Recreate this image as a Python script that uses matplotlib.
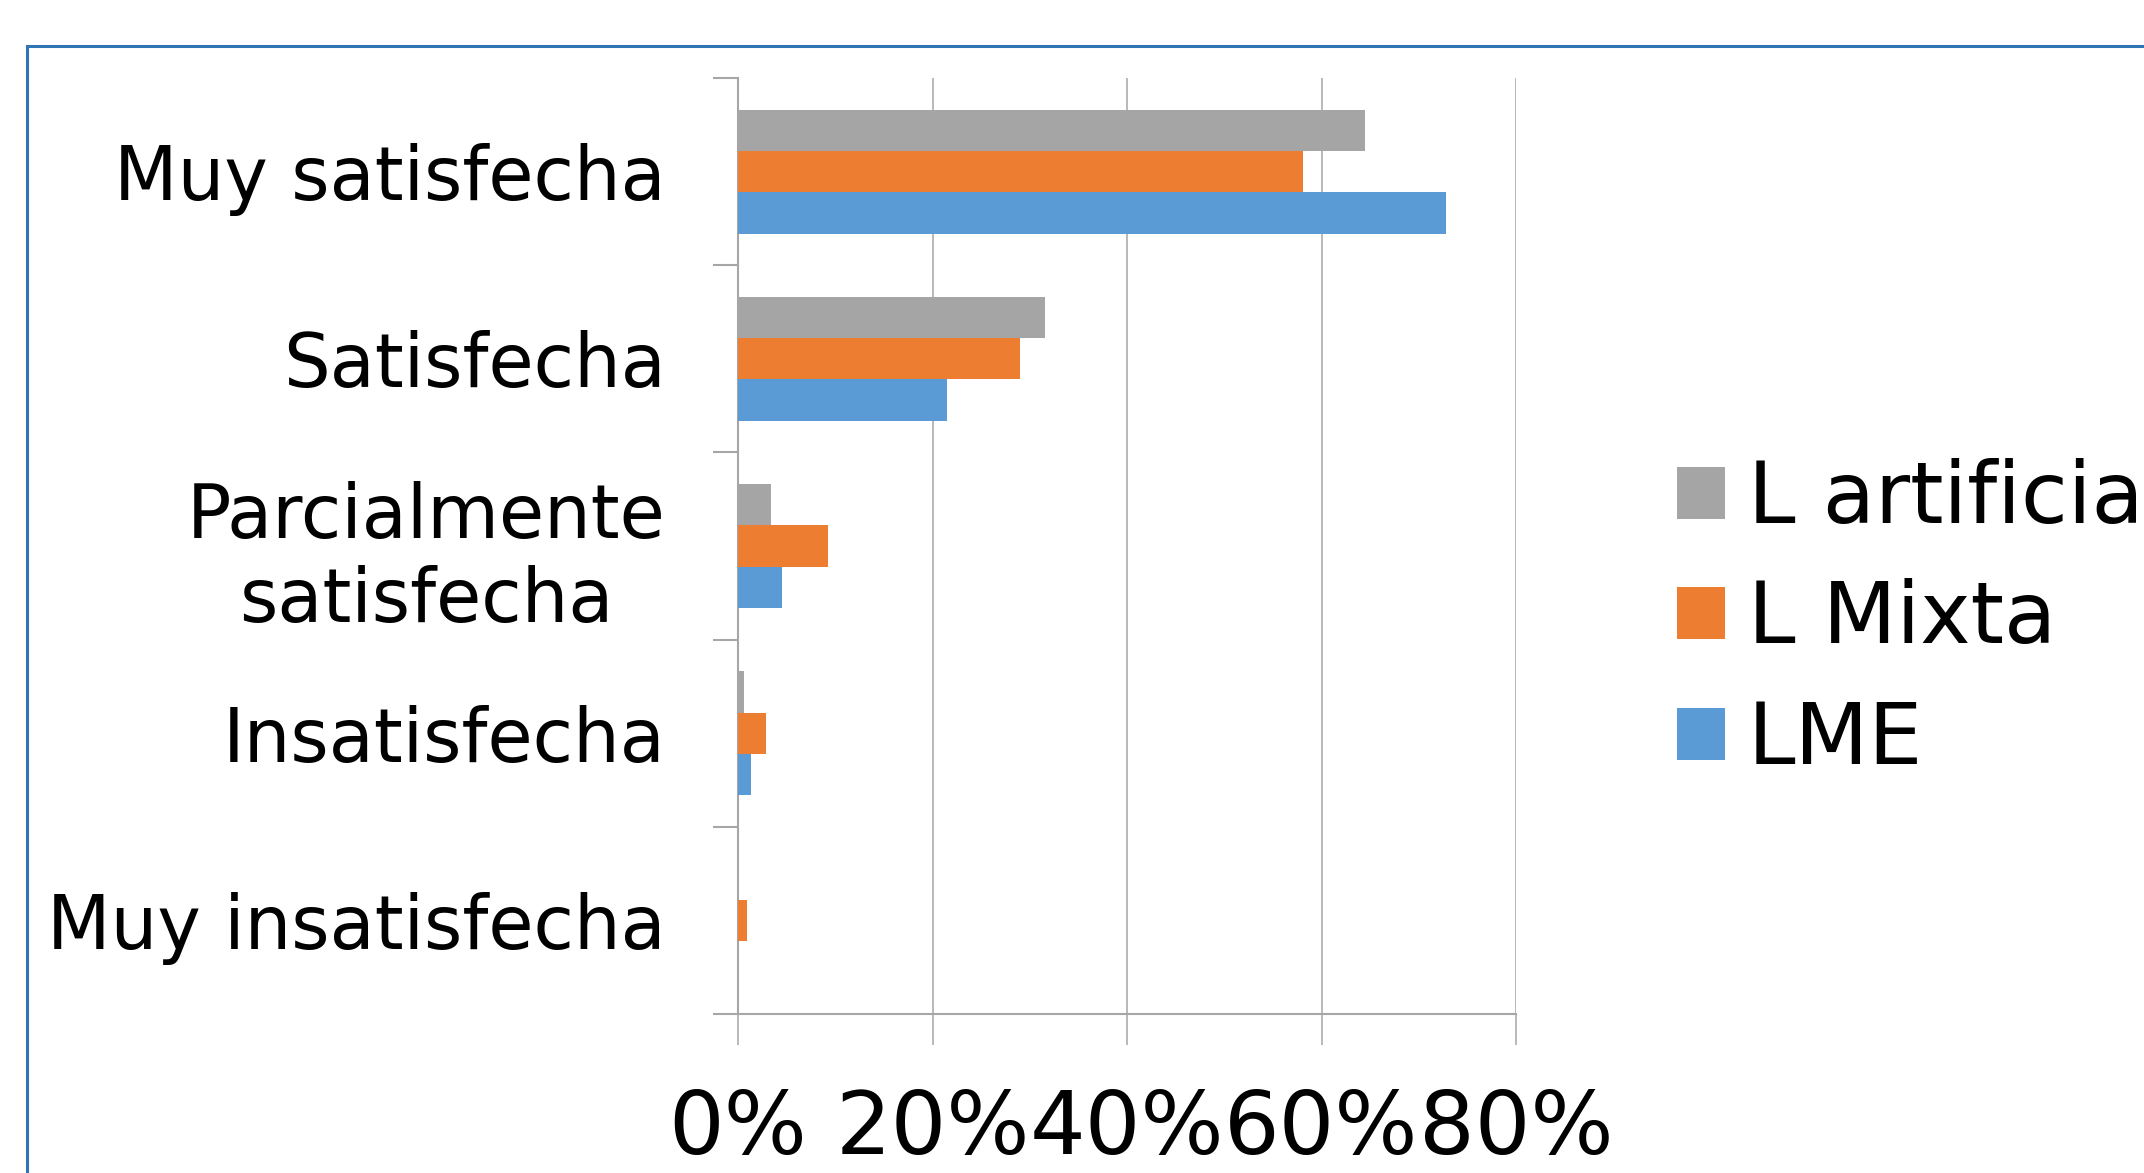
import numpy as np
import matplotlib
matplotlib.use("Agg")
import matplotlib.pyplot as plt
from matplotlib.patches import Rectangle

categories = ["Muy satisfecha", "Satisfecha", "Parcialmente\nsatisfecha",
              "Insatisfecha", "Muy insatisfecha"]
series_names = ["L artificial", "L Mixta", "LME"]
l_artificial = [64.5, 31.6, 3.4, 0.65, 0.0]
l_mixta = [58.1, 29.0, 9.3, 2.9, 0.9]
lme = [72.8, 21.5, 4.5, 1.3, 0.0]
x_ticks = [0, 20, 40, 60, 80]
x_tick_labels = ["0%", "20%", "40%", "60%", "80%"]

colors = ["#A5A5A5", "#ED7D31", "#5B9BD5"]
grid_c = "#A6A6A6"

plt.rcParams['font.family'] = ['DejaVu Sans']
fig = plt.figure(figsize=(21.44, 11.73), dpi=100)

# outer chart frame (cropped at right and bottom, like the source)
fig.patches.append(Rectangle((27 / 2144, -0.2), 1.5, 1 - 46.5 / 1173 + 0.2,
                             transform=fig.transFigure, fill=False,
                             edgecolor="#2F75B5", linewidth=2.2))

ax = fig.add_axes([738 / 2144, 1 - 1014 / 1173, (1516 - 738) / 2144, (1014 - 78) / 1173])

y = np.arange(len(categories))
h = 0.221
ax.barh(y - h, l_artificial, height=h, color=colors[0], label=series_names[0], zorder=3)
ax.barh(y, l_mixta, height=h, color=colors[1], label=series_names[1], zorder=3)
ax.barh(y + h, lme, height=h, color=colors[2], label=series_names[2], zorder=3)

ax.set_ylim(len(categories) - 0.5, -0.5)
ax.set_xlim(0, 80)

ax.set_yticks(y)
ax.set_yticklabels(categories, fontsize=53)
ax.set_yticks(np.arange(len(categories) + 1) - 0.5, minor=True)
ax.tick_params(axis="y", which="major", length=0, pad=52)
ax.tick_params(axis="y", which="minor", length=18, width=1.5, color=grid_c)
for lab in ax.get_yticklabels():
    lab.set_multialignment("center")

ax.set_xticks(x_ticks)
ax.set_xticklabels(x_tick_labels, fontsize=63)
ax.tick_params(axis="x", length=22, width=1.1, color=grid_c, pad=31)

ax.grid(axis="x", color=grid_c, linewidth=1.1, zorder=0)
for s in ["top", "right"]:
    ax.spines[s].set_visible(False)
for s in ["left", "bottom"]:
    ax.spines[s].set_color(grid_c)
    ax.spines[s].set_linewidth(1.5)

ax.legend(loc="center left", bbox_to_anchor=(1677 / 2144, 1 - 620 / 1173),
          bbox_transform=fig.transFigure, frameon=False, fontsize=61.5,
          handlelength=0.56, handleheight=0.56, handletextpad=0.27,
          labelspacing=0.44, borderpad=0, borderaxespad=0)

fig.savefig("out.png", dpi=100)
